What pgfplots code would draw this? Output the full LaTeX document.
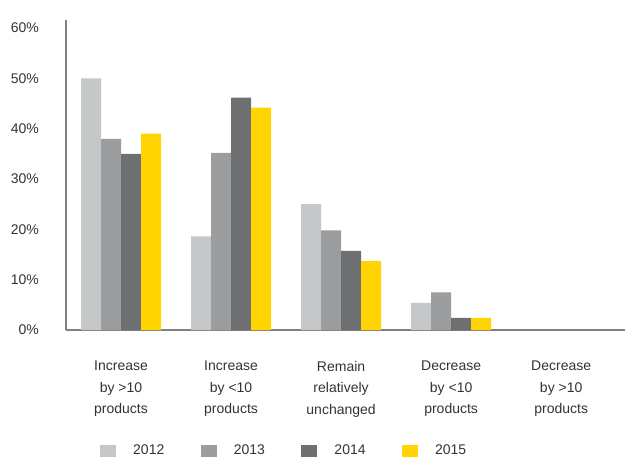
\documentclass[border=0pt]{standalone}
\usepackage{pgfplots}
\pgfplotsset{compat=1.18}
\usepackage{fontspec}
\setmainfont{Liberation Sans}
\definecolor{c12}{HTML}{C6C7C8}
\definecolor{c13}{HTML}{9C9D9F}
\definecolor{c14}{HTML}{6E6F71}
\definecolor{c15}{HTML}{FFD400}
\definecolor{txt}{HTML}{333333}
\definecolor{axc}{HTML}{808080}
\begin{document}
\begin{tikzpicture}
\begin{axis}[
  scale only axis, width=559pt, height=310pt,
  xmin=-0.5, xmax=4.58, ymin=0, ymax=61.6,
  ybar=0pt, bar width=20pt,
  axis x line*=bottom, axis y line*=left,
  axis line style={axc, line width=1.5pt, -},
  major tick length=0pt,
  xtick={0,1,2,3,4},
  xticklabels={{Increase\\by >10\\products},{Increase\\by <10\\products},{Remain\\relatively\\unchanged},{Decrease\\by <10\\products},{Decrease\\by >10\\products}},
  ytick={0,10,20,30,40,50,60},
  yticklabels={0\%,10\%,20\%,30\%,40\%,50\%,60\%},
  tick label style={font=\fontsize{14}{21.5}\selectfont, text=txt},
  yticklabel style={inner sep=0pt, xshift=-27pt},
  xticklabel style={align=center, inner sep=0pt, yshift=-31pt},
  legend columns=4,
  legend image code/.code={\fill[#1,draw=none] (0pt,-6pt) rectangle (16pt,6pt);},
  legend style={at={(axis description cs:0,0)}, anchor=north west, xshift=34pt, yshift=-113pt,
    draw=none, fill=none, inner sep=0pt, text=txt, font=\fontsize{14}{16}\selectfont,
    /tikz/every even column/.append style={column sep=34.5pt},
    /tikz/every odd column/.append style={column sep=15pt}},
]
\addplot[fill=c12, draw=none] coordinates {(0,50) (1,18.6) (2,25) (3,5.4)};
\addplot[fill=c13, draw=none] coordinates {(0,38) (1,35.2) (2,19.8) (3,7.5)};
\addplot[fill=c14, draw=none] coordinates {(0,35) (1,46.2) (2,15.7) (3,2.4)};
\addplot[fill=c15, draw=none] coordinates {(0,39) (1,44.2) (2,13.7) (3,2.4)};
\legend{2012,2013,2014,2015}
\coordinate (ll) at (rel axis cs:0,0);
\coordinate (ur) at (rel axis cs:1,1);
\end{axis}
\pgfresetboundingbox
\useasboundingbox ([xshift=-66pt,yshift=-132pt]ll) rectangle ([yshift=20pt]ur);
\end{tikzpicture}
\end{document}
